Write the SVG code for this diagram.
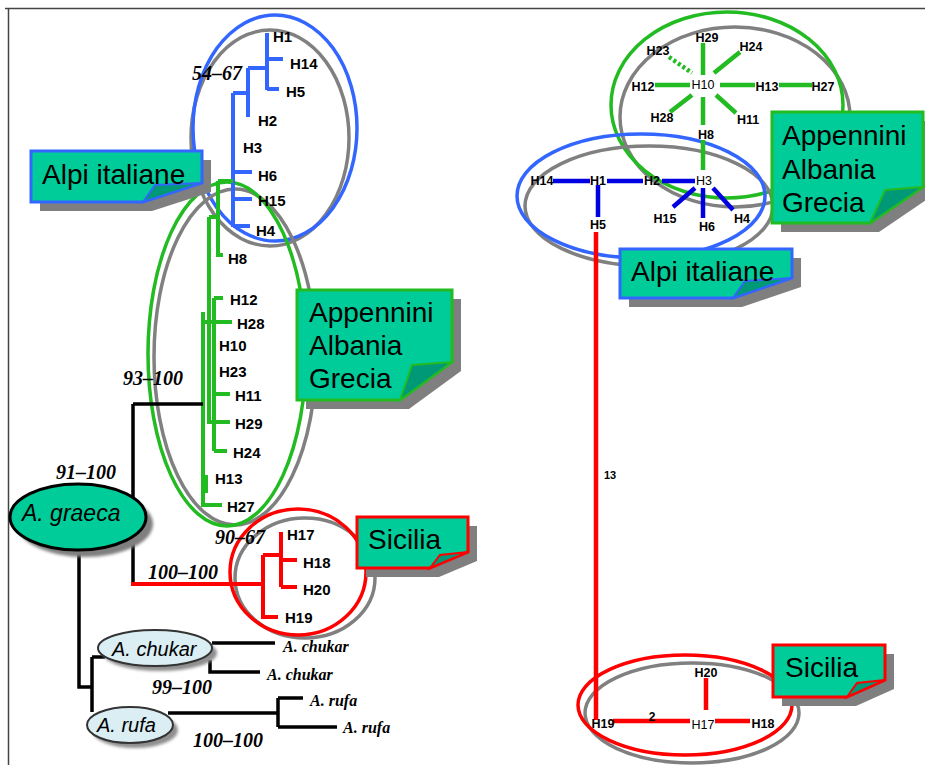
<svg xmlns="http://www.w3.org/2000/svg" width="925" height="765" viewBox="0 0 925 765">
<defs>
<filter id="blur" x="-20%" y="-20%" width="140%" height="140%"><feGaussianBlur stdDeviation="1.5"/></filter>
<style>
.hl{font-family:"Liberation Sans",Arial,sans-serif;font-weight:bold;font-size:15px;fill:#000}
.bs{font-family:"Liberation Serif","Times New Roman",serif;font-weight:bold;font-style:italic;font-size:20px;fill:#000}
.sp{font-family:"Liberation Serif","Times New Roman",serif;font-weight:bold;font-style:italic;font-size:16px;fill:#000}
.el{font-family:"Liberation Sans",Arial,sans-serif;font-style:italic;fill:#000}
.co{font-family:"Liberation Sans",Arial,sans-serif;font-size:28px;fill:#000}
.nl{font-family:"Liberation Sans",Arial,sans-serif;font-weight:bold;font-size:12.5px;fill:#000;text-anchor:middle}
.nr{font-weight:normal}
.ring{fill:none;stroke-width:3.5}
.g{stroke:#808080}
.cb{stroke:#3366ff}
.cg{stroke:#22bb22}
.cr{stroke:#ff0000}
.tb{stroke:#3366ff;stroke-width:4;fill:none}
.tg{stroke:#22bb22;stroke-width:4;fill:none}
.tr{stroke:#ff0000;stroke-width:4;fill:none}
.tk{stroke:#000;stroke-width:3.5;fill:none}
.nb{stroke:#0000e0;stroke-width:4.5;fill:none}
.ng{stroke:#22bb22;stroke-width:4.5;fill:none}
.nrd{stroke:#ff0000;stroke-width:4.5;fill:none}
.shadow{fill:#7f7f7f}
.box{fill:#00cc99;stroke-width:3}
.fold{fill:#009977;stroke-width:2}
</style>
</defs>
<rect width="925" height="765" fill="#ffffff"/>
<path d="M5 8.5H925M8.5 8.5V765" stroke="#444" stroke-width="1.5" fill="none"/>

<g id="regions">
<ellipse class="ring g" cx="270" cy="138" rx="79" ry="108"/>
<ellipse class="ring cb" cx="275" cy="128" rx="82" ry="113"/>
<ellipse class="ring g" cx="235" cy="357" rx="81" ry="168"/>
<ellipse class="ring cg" cx="227" cy="354" rx="79" ry="172"/>
<ellipse class="ring g" cx="305" cy="578" rx="70" ry="60"/>
<ellipse class="ring cr" cx="298" cy="572" rx="68" ry="63"/>
<ellipse class="ring g" cx="735" cy="117" rx="115" ry="90"/>
<ellipse class="ring cg" cx="727" cy="105" rx="116" ry="93"/>
<ellipse class="ring g" cx="649" cy="206" rx="124" ry="60"/>
<ellipse class="ring cb" cx="641" cy="196" rx="124" ry="62"/>
<ellipse class="ring g" cx="692" cy="713" rx="107" ry="50"/>
<ellipse class="ring cr" cx="685" cy="705" rx="107" ry="50"/>
</g>

<g id="connectors">
<path class="tb" d="M267 33V90M267 59H283M267 89H279M248 68H267M248 68V117M233 93H248M233 93V227M233 172H252M233 199H252M233 226H250"/>
<path class="tg" d="M218 181H233M218 181V255H223M209 217H218M209 217V422H230M214 298V451M214 298H223M214 394H230M214 451H227M203 322H232M203 312V505H222M206 475V493"/>
<path class="tk" d="M133 404H203M133 404V584"/>
<path class="tr" d="M131 584H263M263 555V617H278M263 555H281M281 532V587M281 560H297M281 587H297"/>
<path class="tk" d="M79 550V687H92M92 657V712M92 657H105M212 643H275M210 660V672H260M168 713H278M278 698V727M278 698H303M278 727H337"/>
<path class="ng" d="M703 43V75M714 73L740 52M655 85H690M720 85H755M779 85H812M692 95L670 112M716 95L736 113M703 97V125M703 140V170"/>
<path class="ng" d="M669 57L692 73" stroke-dasharray="3 2.5"/>
<path class="nb" d="M553 181H590M607 181H643M662 181H695M598 185V217M695 188L673 207M703 188V218M713 188L733 210"/>
<path class="nrd" d="M596 232V720" stroke-width="3"/>
<path class="nrd" d="M706 678V710M613 721H690M715 721H750"/>
<text x="610" y="479" class="nl" style="font-size:11px">13</text>
<text x="652" y="721" class="nl" style="font-size:12px">2</text>
</g>

<g id="bootstrap">
<text x="192" y="80" class="bs">54–67</text>
<text x="123" y="385" class="bs">93–100</text>
<text x="56" y="479" class="bs">91–100</text>
<text x="215" y="544" class="bs">90–67</text>
<text x="148" y="579" class="bs">100–100</text>
<text x="152" y="694" class="bs">99–100</text>
<text x="193" y="747" class="bs">100–100</text>
</g>

<g id="tree-leaves">
<text x="273" y="42" class="hl">H1</text>
<text x="290" y="69" class="hl">H14</text>
<text x="286" y="97" class="hl">H5</text>
<text x="258" y="126" class="hl">H2</text>
<text x="243" y="153" class="hl">H3</text>
<text x="258" y="181" class="hl">H6</text>
<text x="258" y="206" class="hl">H15</text>
<text x="256" y="236" class="hl">H4</text>
<text x="228" y="264" class="hl">H8</text>
<text x="230" y="305" class="hl">H12</text>
<text x="237" y="329" class="hl">H28</text>
<text x="219" y="351" class="hl">H10</text>
<text x="219" y="377" class="hl">H23</text>
<text x="235" y="401" class="hl">H11</text>
<text x="235" y="429" class="hl">H29</text>
<text x="233" y="458" class="hl">H24</text>
<text x="215" y="484" class="hl">H13</text>
<text x="227" y="512" class="hl">H27</text>
<text x="287" y="540" class="hl">H17</text>
<text x="303" y="568" class="hl">H18</text>
<text x="303" y="595" class="hl">H20</text>
<text x="285" y="623" class="hl">H19</text>
<text x="283" y="652" class="sp">A. chukar</text>
<text x="267" y="680" class="sp">A. chukar</text>
<text x="310" y="706" class="sp">A. rufa</text>
<text x="343" y="733" class="sp">A. rufa</text>
</g>

<g id="A-graeca">
<ellipse cx="85" cy="524" rx="68" ry="33" fill="#7f7f7f" filter="url(#blur)"/>
<ellipse cx="78" cy="517" rx="68" ry="33" fill="#00cc99" stroke="#000" stroke-width="3"/>
<text x="22" y="521" class="el" font-size="23">A. graeca</text>
</g>
<g id="A-chukar">
<ellipse cx="160" cy="653" rx="57" ry="18" fill="#8f8f8f" filter="url(#blur)"/>
<ellipse cx="155" cy="648" rx="57" ry="18" fill="#daeef3" stroke="#333" stroke-width="2"/>
<text x="112" y="656" class="el" font-size="20">A. chukar</text>
</g>
<g id="A-rufa">
<ellipse cx="135" cy="730" rx="43" ry="18" fill="#8f8f8f" filter="url(#blur)"/>
<ellipse cx="130" cy="725" rx="43" ry="18" fill="#daeef3" stroke="#333" stroke-width="2"/>
<text x="97" y="732" class="el" font-size="20">A. rufa</text>
</g>

<g id="net-H10"><text x="703" y="89" class="nl nr">H10</text></g>
<g id="net-H29"><text x="707" y="42" class="nl">H29</text></g>
<g id="net-H24"><text x="751" y="51" class="nl">H24</text></g>
<g id="net-H23"><text x="658" y="55" class="nl">H23</text></g>
<g id="net-H12"><text x="643" y="91" class="nl">H12</text></g>
<g id="net-H13"><text x="767" y="91" class="nl">H13</text></g>
<g id="net-H27"><text x="823" y="91" class="nl">H27</text></g>
<g id="net-H28"><text x="662" y="122" class="nl">H28</text></g>
<g id="net-H11"><text x="748" y="124" class="nl">H11</text></g>
<g id="net-H8"><text x="706" y="139" class="nl">H8</text></g>
<g id="net-H3"><text x="704" y="185" class="nl nr">H3</text></g>
<g id="net-H14"><text x="542" y="185" class="nl">H14</text></g>
<g id="net-H1"><text x="598" y="185" class="nl">H1</text></g>
<g id="net-H2"><text x="652" y="185" class="nl">H2</text></g>
<g id="net-H5"><text x="598" y="229" class="nl">H5</text></g>
<g id="net-H15"><text x="665" y="223" class="nl">H15</text></g>
<g id="net-H6"><text x="707" y="231" class="nl">H6</text></g>
<g id="net-H4"><text x="742" y="223" class="nl">H4</text></g>
<g id="net-H20"><text x="706" y="677" class="nl">H20</text></g>
<g id="net-H19"><text x="603" y="728" class="nl">H19</text></g>
<g id="net-H17"><text x="703" y="729" class="nl nr">H17</text></g>
<g id="net-H18"><text x="763" y="728" class="nl">H18</text></g>

<g id="callout-alpi-left">
<path class="shadow" d="M40 160H211V192L152 211H40Z"/>
<path class="box cb" d="M31 151H202V183L143 202H31Z"/>
<path class="fold cb" d="M143 202L155 185L202 183Z"/>
<text x="42" y="184" class="co">Alpi italiane</text>
</g>
<g id="callout-app-left">
<path class="shadow" d="M306 299H461V371L409 409H306Z"/>
<path class="box cg" d="M297 290H452V362L400 400H297Z"/>
<path class="fold cg" d="M400 400L412 365L452 362Z"/>
<text x="309" y="322" class="co">Appennini</text>
<text x="309" y="355" class="co">Albania</text>
<text x="309" y="388" class="co">Grecia</text>
</g>
<g id="callout-sic-left">
<path class="shadow" d="M366 526H477V561L439 577H366Z"/>
<path class="box cr" d="M357 517H468V552L430 568H357Z"/>
<path class="fold cr" d="M430 568L440 555L468 552Z"/>
<text x="368" y="549" class="co">Sicilia</text>
</g>
<g id="callout-app-right">
<path class="shadow" d="M781 121H932V196L879 232H781Z"/>
<path class="box cg" d="M772 112H923V187L870 223H772Z"/>
<path class="fold cg" d="M870 223L885 190L923 187Z"/>
<text x="782" y="145" class="co">Appennini</text>
<text x="782" y="179" class="co">Albania</text>
<text x="782" y="212" class="co">Grecia</text>
</g>
<g id="callout-alpi-right">
<path class="shadow" d="M629 258H801V287L742 307H629Z"/>
<path class="box cb" d="M620 249H792V278L733 298H620Z"/>
<path class="fold cb" d="M733 298L745 281L792 278Z"/>
<text x="631" y="281" class="co">Alpi italiane</text>
</g>
<g id="callout-sic-right">
<path class="shadow" d="M782 654H894V689L856 706H782Z"/>
<path class="box cr" d="M773 645H885V680L847 697H773Z"/>
<path class="fold cr" d="M847 697L857 683L885 680Z"/>
<text x="785" y="677" class="co">Sicilia</text>
</g>
</svg>
